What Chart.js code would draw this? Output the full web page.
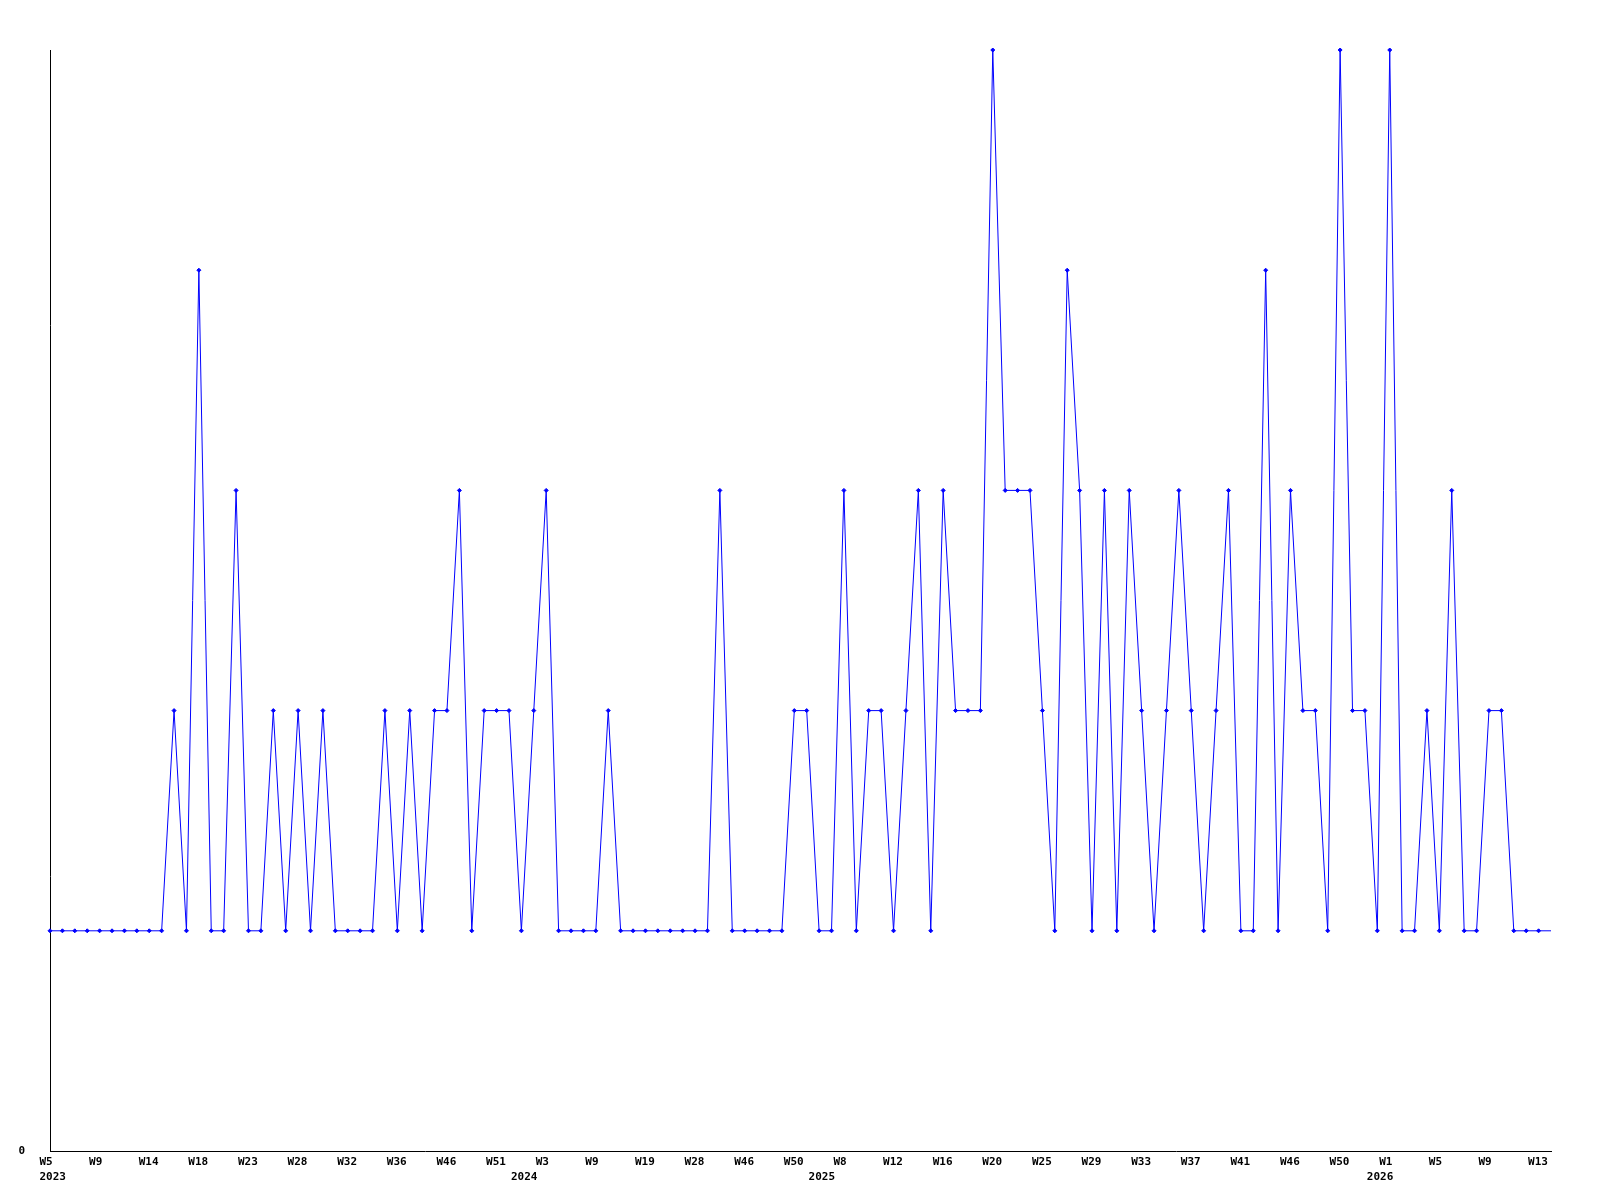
<!DOCTYPE html>
<html>
<head>
<meta charset="utf-8">
<script src="https://cdn.jsdelivr.net/npm/chart.js@4.4.0/dist/chart.umd.min.js"></script>
<style>
    body { margin: 0; background: #fff; }
    canvas { display: block; }
</style>
</head>
<body>
<canvas id="chart" width="1600" height="1200"></canvas>
<script>
// one value per data point (points are not evenly spread in weeks)
const counts = [
    1, 1, 1, 1, 1, 1, 1, 1, 1, 1,
    2, 1, 4, 1, 1, 3, 1, 1, 2, 1,
    2, 1, 2, 1, 1, 1, 1, 2, 1, 2,
    1, 2, 2, 3, 1, 2, 2, 2, 1, 2,
    3, 1, 1, 1, 1, 2, 1, 1, 1, 1,
    1, 1, 1, 1, 3, 1, 1, 1, 1, 1,
    2, 2, 1, 1, 3, 1, 2, 2, 1, 2,
    3, 1, 3, 2, 2, 2, 5, 3, 3, 3,
    2, 1, 4, 3, 1, 3, 1, 3, 2, 1,
    2, 3, 2, 1, 2, 3, 1, 1, 4, 1,
    3, 2, 2, 1, 5, 2, 2, 1, 5, 1,
    1, 2, 1, 3, 1, 1, 2, 2, 1, 1,
    1, 1
];

// week label shown on every 4th point
const weekTicks = ['W5', 'W9', 'W14', 'W18', 'W23', 'W28', 'W32', 'W36', 'W46', 'W51',
    'W3', 'W9', 'W19', 'W28', 'W46', 'W50', 'W8', 'W12', 'W16', 'W20',
    'W25', 'W29', 'W33', 'W37', 'W41', 'W46', 'W50', 'W1', 'W5', 'W9', 'W13'];
const weekStep = 4;

// year label under the first point of each year
const yearIdx = [0, 38, 62, 107];
const years = ['2023', '2024', '2025', '2026'];

const yTicks = [0];

// build the two-line tick texts
const labels = counts.map((c, i) => {
    const wk = i % weekStep === 0 ? (weekTicks[i / weekStep] || '') : '';
    const y = yearIdx.indexOf(i);
    if (y >= 0) return [wk, years[y]];
    return wk;
});

// last point is the running week, drawn without a marker
const radii = counts.map((c, i) => i === counts.length - 1 ? 0 : 2);

Chart.defaults.font.family = "'DejaVu Sans Mono', monospace";
Chart.defaults.font.size = 11;
Chart.defaults.font.weight = 'bold';
Chart.defaults.color = '#000';

new Chart(document.getElementById('chart'), {
    type: 'line',
    data: {
        labels: labels,
        datasets: [{
            data: counts,
            borderColor: '#0000ff',
            borderWidth: 1,
            tension: 0,
            clip: false,
            pointStyle: 'rectRot',
            pointRadius: radii,
            pointBackgroundColor: '#0000ff',
            pointBorderColor: '#0000ff',
            pointBorderWidth: 1
        }]
    },
    options: {
        responsive: false,
        animation: false,
        devicePixelRatio: 1,
        layout: { padding: { top: 50, right: 49, left: 0, bottom: 0 } },
        plugins: { legend: { display: false }, tooltip: { enabled: false } },
        scales: {
            x: {
                type: 'category',
                offset: false,
                grid: { display: false, drawTicks: false },
                border: { display: true, color: '#000', width: 1 },
                ticks: {
                    autoSkip: false,
                    maxRotation: 0,
                    align: 'start',
                    labelOffset: -10.5,
                    padding: 4,
                    font: { lineHeight: 1.32 }
                },
                afterFit: s => { s.height = 49; s.paddingLeft = 0; s.paddingRight = 0; }
            },
            y: {
                min: 0,
                max: 5,
                grid: { display: false, drawTicks: false },
                border: { display: true, color: '#000', width: 1 },
                ticks: {
                    stepSize: 1,
                    padding: 25,
                    callback: v => yTicks.includes(v) ? String(v) : ''
                },
                afterFit: s => { s.width = 50; }
            }
        }
    }
});
</script>
</body>
</html>
